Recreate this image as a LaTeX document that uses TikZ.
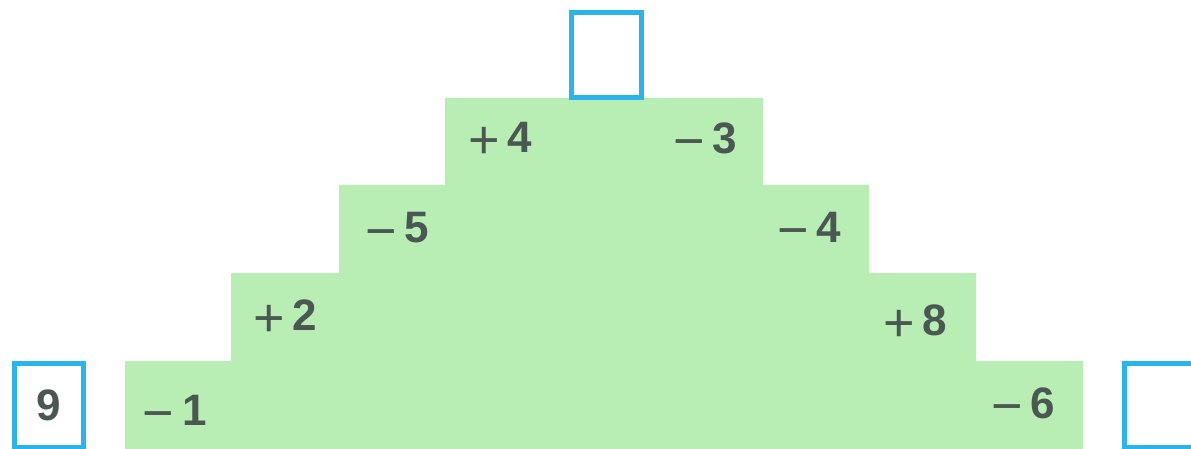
\documentclass[tikz,border=0pt]{standalone}
\usepackage{fontspec}
\setmainfont{Liberation Sans}
\definecolor{stepgreen}{HTML}{B8EDB3}
\definecolor{boxcyan}{HTML}{2BB4EC}
\definecolor{txt}{HTML}{4B5752}
\newcommand{\sg}[2]{\raisebox{-6pt}{\fontsize{54}{54}\selectfont #1}\hspace{8pt}\textbf{#2}}
\begin{document}
\begin{tikzpicture}[x=1pt,y=-1pt,
  ansbox/.style={draw=boxcyan,line width=5pt,fill=white,inner sep=0pt,
    minimum width=69pt,minimum height=84pt,text=txt,
    font=\fontsize{44}{44}\selectfont\bfseries},
  oplabel/.style={inner sep=0pt,text=txt,font=\fontsize{44}{44}\selectfont}]
\useasboundingbox (0,0) rectangle (1191,449);
\clip (0,0) rectangle (1191,449);
\fill[white] (0,0) rectangle (1191,449);
\fill[stepgreen] (125,452) -- (125,361) -- (231,361) -- (231,273) -- (339,273)
  -- (339,185) -- (445,185) -- (445,98) -- (763,98) -- (763,185) -- (869,185)
  -- (869,273) -- (976,273) -- (976,361) -- (1083,361) -- (1083,452) -- cycle;
\node[ansbox,minimum width=70pt,minimum height=85pt] (top) at (606.5,55) {};
\node[ansbox] (left) at (48.5,405.5) {9};
\node[ansbox] (right) at (1159,405.5) {};
\node[oplabel,anchor=base] (a1) at (500,153) {\sg{+}{4}};
\node[oplabel,anchor=base] (a2) at (705,154) {\sg{−}{3}};
\node[oplabel,anchor=base] (b1) at (397,243) {\sg{−}{5}};
\node[oplabel,anchor=base] (b2) at (809,242) {\sg{−}{4}};
\node[oplabel,anchor=base] (c1) at (285,330) {\sg{+}{2}};
\node[oplabel,anchor=base] (c2) at (915,335) {\sg{+}{8}};
\node[oplabel,anchor=base] (d1) at (175,425) {\sg{−}{1}};
\node[oplabel,anchor=base] (d2) at (1023,418) {\sg{−}{6}};
\end{tikzpicture}
\end{document}
